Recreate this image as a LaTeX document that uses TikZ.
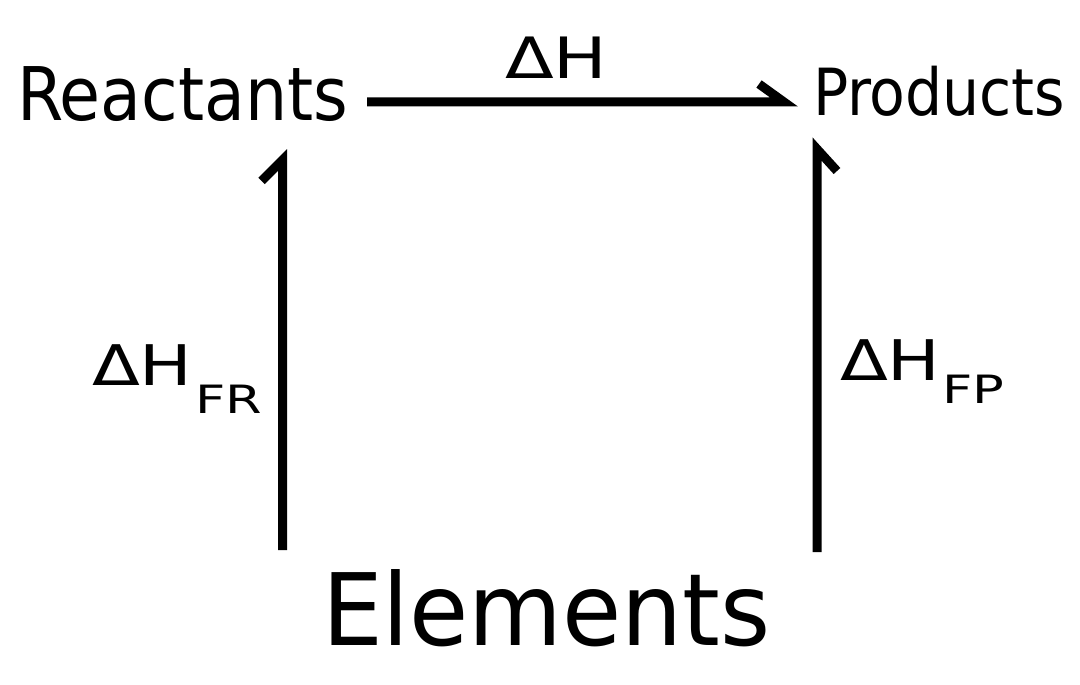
\documentclass[tikz,border=0pt]{standalone}
\usepackage{fontspec}
\newfontfamily\condfont{DejaVu Sans Condensed}
\newfontfamily\elemfont{DejaVu Sans Condensed}[FakeStretch=1.07]
\newfontfamily\widefont{DejaVu Sans}[FakeStretch=1.25]
\newfontfamily\subfont{DejaVu Sans}[FakeStretch=1.35]
\begin{document}
\begin{tikzpicture}[x=1pt,y=-1pt,
  lbl/.style={inner sep=0pt,outer sep=0pt,anchor=base west},
  conn/.style={line width=9pt,line join=miter,miter limit=20,line cap=butt}]
\useasboundingbox (0,0) rectangle (1080,685);
\node[lbl] (reac) at (17,121) {\condfont\fontsize{74}{74}\selectfont Reactants};
\node[lbl] (prod) at (813,115) {\condfont\fontsize{65}{65}\selectfont Products};
\node[lbl] (elem) at (322,645) {\elemfont\fontsize{100}{100}\selectfont Elements};
\node[lbl] (dh) at (505,78) {\widefont\fontsize{57}{57}\selectfont ΔH};
\node[lbl] (dhfr) at (92,385) {\widefont\fontsize{56}{56}\selectfont ΔH};
\node[lbl] (fr) at (195,413) {\subfont\fontsize{39}{39}\selectfont FR};
\node[lbl] (dhfp) at (840,380) {\widefont\fontsize{56}{56}\selectfont ΔH};
\node[lbl] (fp) at (942,403) {\subfont\fontsize{39}{39}\selectfont FP};
% connector end points
\coordinate (reacout) at (367,102);
\coordinate (prodin) at (784,102);
\coordinate (elemL) at (282.5,550);
\coordinate (reacin) at (282.5,160);
\coordinate (elemR) at (817,552);
\coordinate (prodinb) at (817,149);
\draw[conn] (reacout) -- (prodin) -- ++(-25,-18);
\draw[conn] (elemL) -- (reacin) -- ++(-21,21);
\draw[conn] (elemR) -- (prodinb) -- ++(20,22);
\end{tikzpicture}
\end{document}
